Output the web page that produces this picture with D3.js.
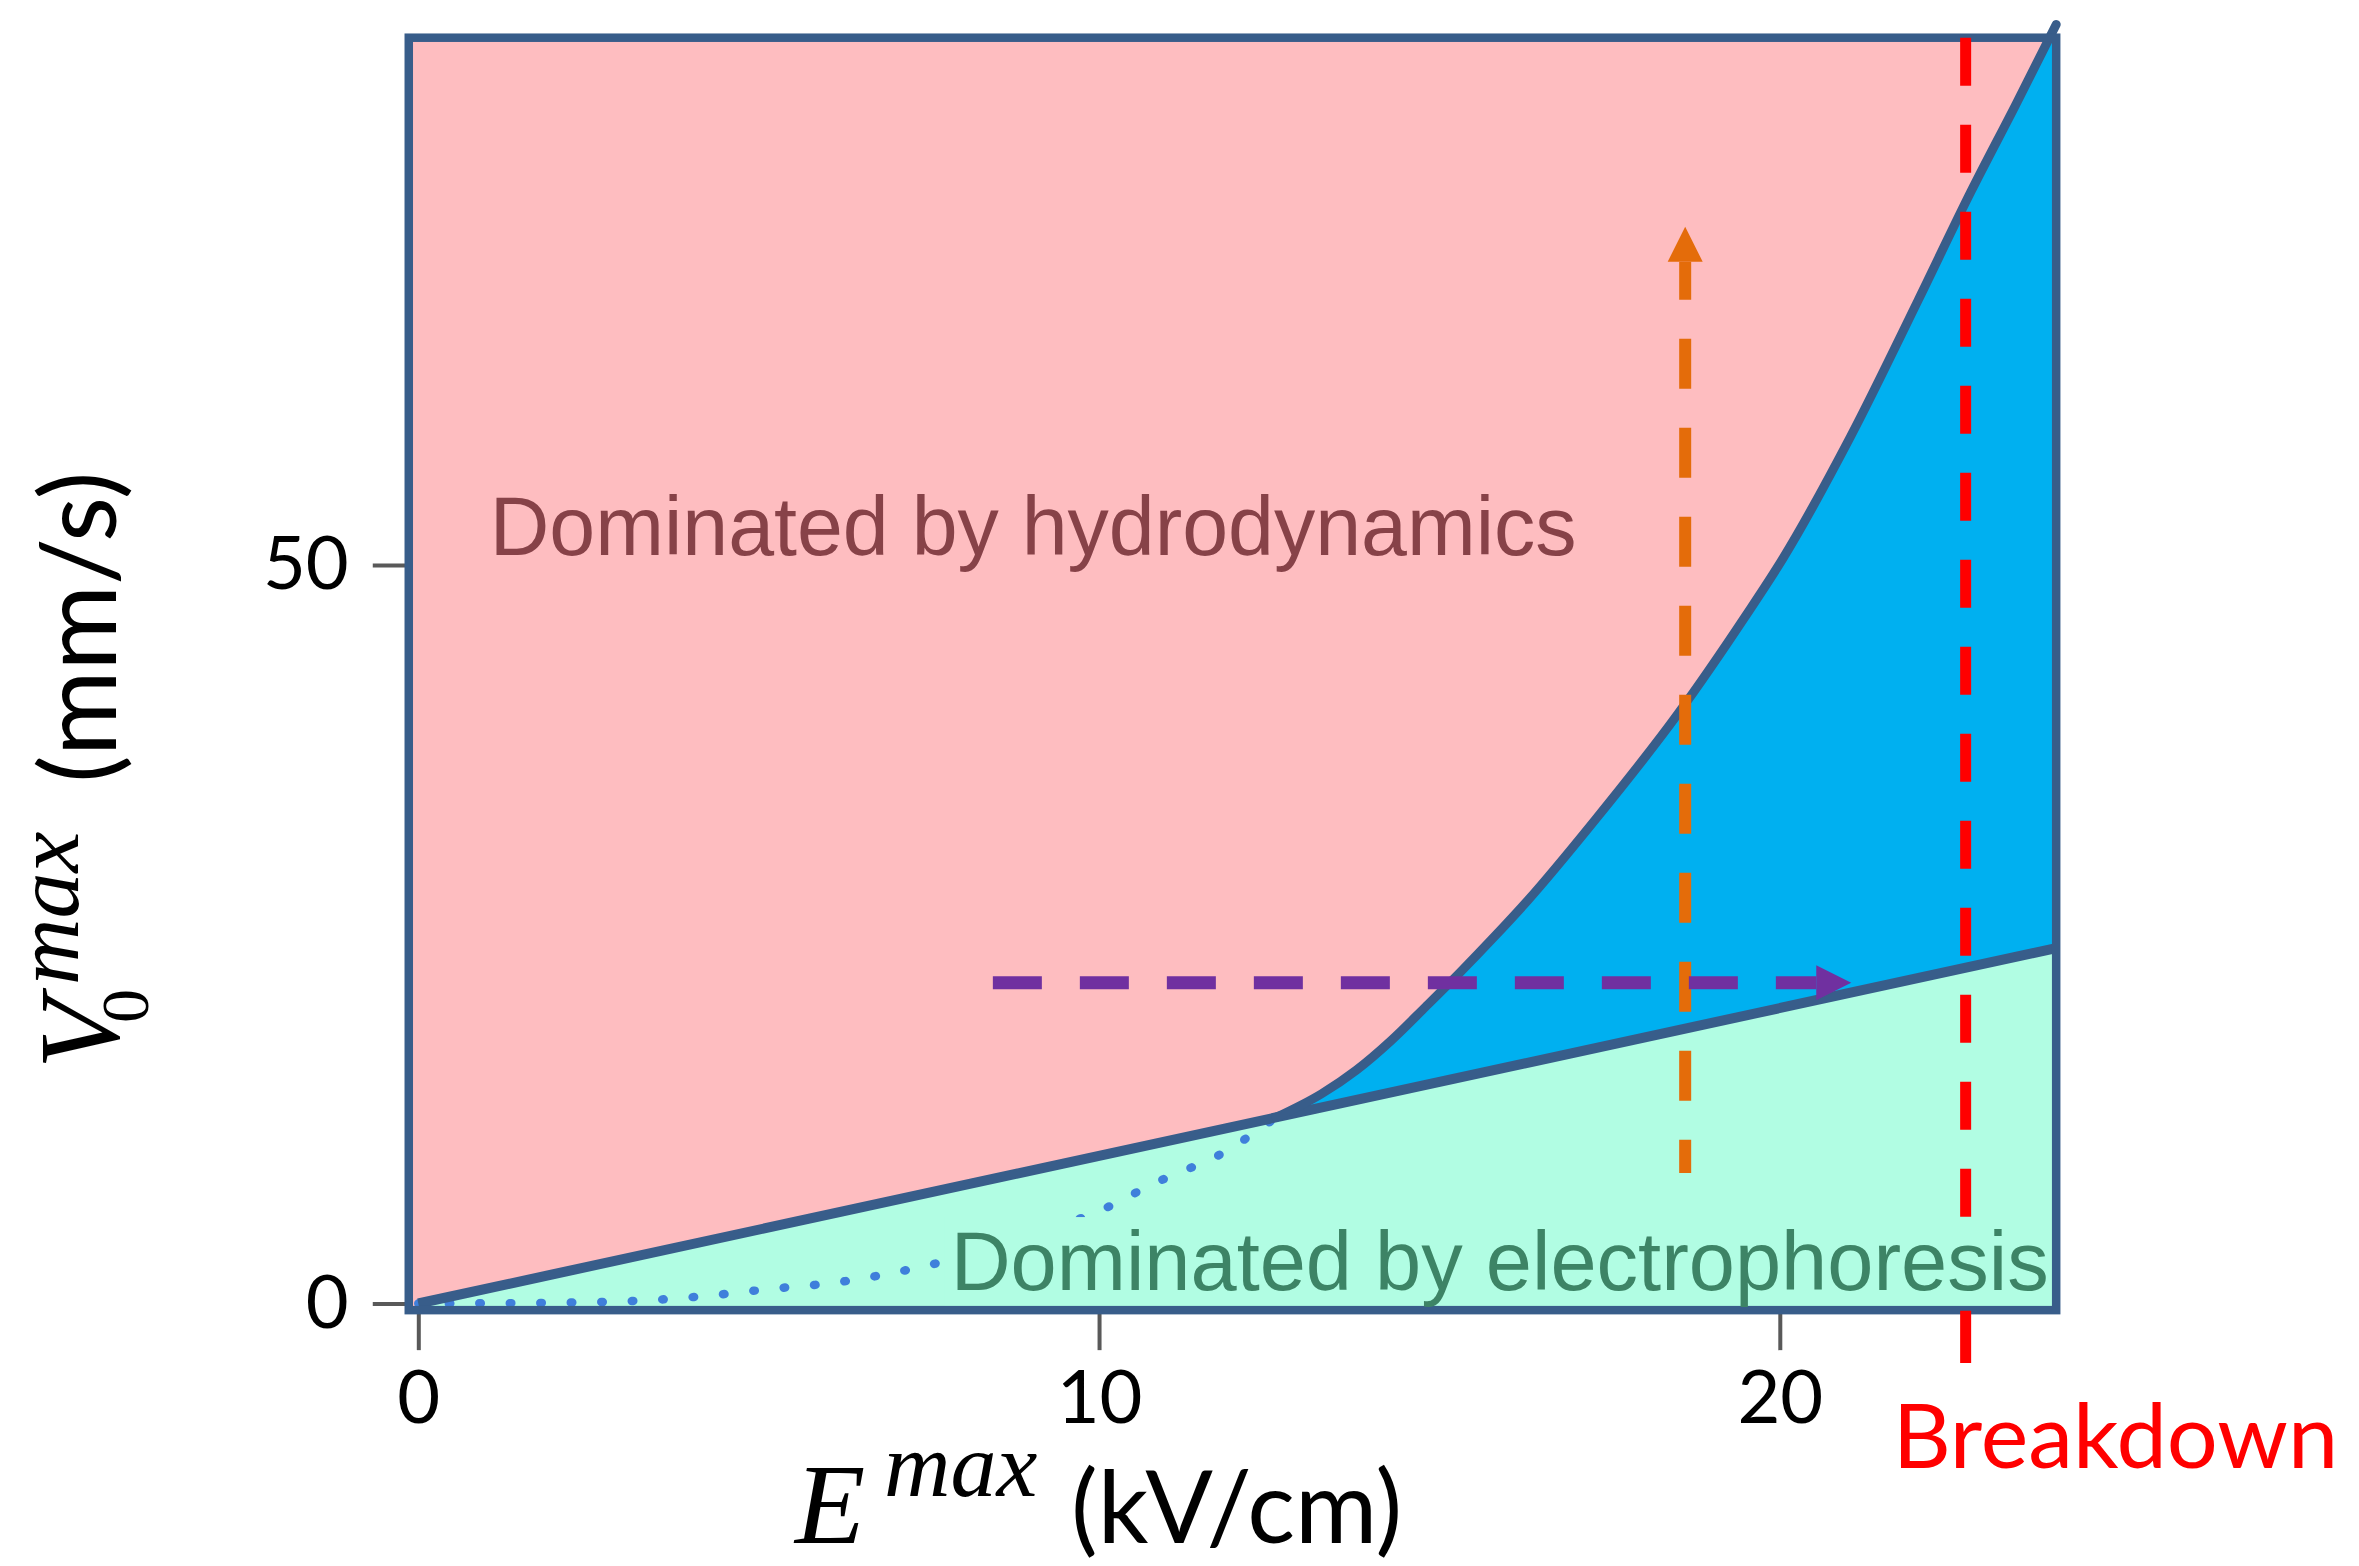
<!DOCTYPE html>
<html><head><meta charset="utf-8">
<script src="https://cdn.jsdelivr.net/npm/d3@7"></script>
<style>html,body{margin:0;padding:0;background:#fff;} svg{display:block;}</style>
</head><body>
<script>
// ---------- data ----------
const xTicks = [0, 10, 20];
const yTicks = [0, 50];
const frameE = [-0.14, 24.06];      // plot frame extent in E (kV/cm)
const frameV = [-0.45, 85.7];       // plot frame extent in V (mm/s)
const electroE = [0, 24.06];        // electrophoresis boundary (straight line)
const electroV = [0, 24.06];
const hydroE = [12.6, 13.27, 13.78, 14.29, 14.8, 15.3, 15.8, 16.3, 17.28, 18.5, 19.49, 20.04, 21.04, 22.03, 22.81, 23.47, 24.06];
const hydroV = [12.6, 14.2, 15.8, 17.8, 20.1, 22.4, 24.8, 27.3, 32.7, 39.9, 46.5, 50.4, 58.7, 67.9, 75.3, 81.2, 86.6];
const dotE = [0, 2.0, 3.3, 4.2, 5.2, 6.1, 7.0, 7.5, 8.7, 9.8, 10.3, 10.7, 11.25, 11.7, 12.2, 12.6];
const dotV = [0, 0.05, 0.2, 0.5, 1.0, 1.4, 2.1, 2.6, 4.1, 5.9, 6.9, 7.9, 9.0, 9.9, 11.3, 12.6];
const orangeE = 18.61, orangeV = [8.84, 72.9];
const purpleV = 21.72, purpleE = [8.44, 21.05];
const breakdownE = 22.73, breakdownV = [85.7, -4.03];
const hydroLabel = "Dominated by hydrodynamics", hydroLabelPos = [1.05, 50.7];
const electroLabel = "Dominated by electrophoresis", electroLabelPos = [7.82, 0.91];
const breakdownLabel = "Breakdown";

// ---------- setup ----------
const W = 2359, H = 1566;
const svg = d3.select("body").append("svg").attr("width", W).attr("height", H);
const x = d3.scaleLinear().domain([0, 20]).range([418.3, 1779.8]);
const y = d3.scaleLinear().domain([0, 50]).range([1303.5, 565]);

const C = {
  pink: "#FEBDC0", cyan: "#00B0F0", green: "#B1FDE3", frame: "#385D8A",
  dot: "#3F7FDB", orange: "#E46C0A", purple: "#7030A0", red: "#FF0000",
  hydroText: "#874248", electroText: "#3D8466"
};
const serif = "'Liberation Serif', 'DejaVu Serif', serif";
const sans = "Lato, 'Open Sans', sans-serif";

const zip = (a, b) => a.map((v, i) => [v, b[i]]);
const hydroPts = zip(hydroE, hydroV);
const electroPts = zip(electroE, electroV);
const dotPts = zip(dotE, dotV);

const xl = frameE.map(x), yl = frameV.map(y);

// pink background (whole frame)
svg.append("rect")
  .attr("x", xl[0]).attr("y", yl[1])
  .attr("width", xl[1] - xl[0]).attr("height", yl[0] - yl[1])
  .attr("fill", C.pink);

// green: below electrophoresis line
const area = d3.area().x(d => x(d[0])).y0(yl[0]).y1(d => y(d[1]));
svg.append("path").attr("d", area(electroPts)).attr("fill", C.green);

// cyan: between the two boundaries
const curveLine = d3.line().x(d => x(d[0])).y(d => y(d[1])).curve(d3.curveMonotoneX);
const straight = d3.line().x(d => x(d[0])).y(d => y(d[1]));
const last = electroPts[electroPts.length - 1];
svg.append("path")
  .attr("d", curveLine(hydroPts) + `L${x(last[0])},${y(last[1])}Z`)
  .attr("fill", C.cyan);

// dotted continuation
svg.append("path")
  .attr("d", d3.line().x(d => x(d[0])).y(d => y(d[1])).curve(d3.curveMonotoneX)(dotPts))
  .attr("fill", "none").attr("stroke", C.dot).attr("stroke-width", 8.5)
  .attr("stroke-linecap", "round").attr("stroke-dasharray", "1.5 29");

// boundary strokes
svg.append("path").attr("d", straight(electroPts))
  .attr("fill", "none").attr("stroke", C.frame).attr("stroke-width", 10);
svg.append("path").attr("d", curveLine(hydroPts))
  .attr("fill", "none").attr("stroke", C.frame).attr("stroke-width", 9).attr("stroke-linecap", "round");

// frame outline
svg.append("rect")
  .attr("x", xl[0]).attr("y", yl[1])
  .attr("width", xl[1] - xl[0]).attr("height", yl[0] - yl[1])
  .attr("fill", "none").attr("stroke", C.frame).attr("stroke-width", 8.5);

// axes
const gy = svg.append("g").attr("transform", `translate(${xl[0]},0)`)
  .call(d3.axisLeft(y).tickValues(yTicks).tickSize(36).tickPadding(24).tickFormat(d3.format("d")));
const gx = svg.append("g").attr("transform", `translate(0,${yl[0]})`)
  .call(d3.axisBottom(x).tickValues(xTicks).tickSize(40).tickPadding(20).tickFormat(d3.format("d")));
[gy, gx].forEach(g => {
  g.select(".domain").remove();
  g.selectAll(".tick line").attr("stroke", "#595959").attr("stroke-width", 4);
  g.selectAll(".tick text").attr("font-family", sans)
    .attr("font-size", 74).attr("fill", "#000");
});
gx.lower(); gy.lower();

// red breakdown dashed line
const redPattern = [];
for (let i = 0; i < 14; i++) redPattern.push(48, 39);
redPattern.push(48, 7, 60);
svg.append("line")
  .attr("x1", x(breakdownE)).attr("x2", x(breakdownE))
  .attr("y1", y(breakdownV[0])).attr("y2", y(breakdownV[1]))
  .attr("stroke", C.red).attr("stroke-width", 11)
  .attr("stroke-dasharray", redPattern.join(" "));

// arrows
const headLen = 35, headHalf = 17.5;
{
  const ax = x(orangeE), yBot = y(orangeV[0]), yTip = y(orangeV[1]);
  svg.append("line").attr("x1", ax).attr("x2", ax).attr("y1", yTip + headLen).attr("y2", yBot)
    .attr("stroke", C.orange).attr("stroke-width", 12)
    .attr("stroke-dasharray", "50 39").attr("stroke-dashoffset", 12);
  svg.append("path")
    .attr("d", `M${ax},${yTip}L${ax - headHalf},${yTip + headLen}L${ax + headHalf},${yTip + headLen}Z`)
    .attr("fill", C.orange);
}
{
  const ay = y(purpleV), xStart = x(purpleE[0]), xTip = x(purpleE[1]);
  svg.append("line").attr("x1", xStart).attr("x2", xTip - headLen).attr("y1", ay).attr("y2", ay)
    .attr("stroke", C.purple).attr("stroke-width", 13)
    .attr("stroke-dasharray", "49 38");
  svg.append("path")
    .attr("d", `M${xTip},${ay}L${xTip - headLen},${ay - headHalf}L${xTip - headLen},${ay + headHalf}Z`)
    .attr("fill", C.purple);
}

// region labels
const labelFont = "'Liberation Sans', Arial, sans-serif";
svg.append("text").attr("x", x(hydroLabelPos[0])).attr("y", y(hydroLabelPos[1]))
  .attr("font-family", labelFont).attr("font-size", 82.5).attr("fill", C.hydroText)
  .text(hydroLabel);
const eBg = svg.append("rect").attr("fill", C.green);
const eText = svg.append("text").attr("x", x(electroLabelPos[0])).attr("y", y(electroLabelPos[1]))
  .attr("font-family", labelFont).attr("font-size", 83).attr("fill", C.electroText)
  .text(electroLabel);
{
  const bb = eText.node().getBBox();
  eBg.attr("x", bb.x - 6).attr("y", bb.y + 2).attr("width", bb.width + 8)
    .attr("height", Math.min(bb.height - 2, yl[0] - 5 - (bb.y + 2)));
}

// Breakdown label
svg.append("text").attr("x", x(breakdownE) - 73).attr("y", yl[0] + 158)
  .attr("font-family", sans).attr("font-size", 90).attr("fill", C.red)
  .text(breakdownLabel);

// x axis title: E^max (kV/cm)  — one text element with tspans
{
  const t = svg.append("text").attr("x", 795).attr("y", 1543).attr("fill", "#000");
  t.append("tspan").attr("font-family", serif).attr("font-style", "italic")
    .attr("font-size", 115).text("E");
  t.append("tspan").attr("x", 884).attr("dy", -47).attr("font-family", serif).attr("font-style", "italic")
    .attr("font-size", 92).text("max");
  t.append("tspan").attr("x", 1071).attr("dy", 47).attr("font-family", sans)
    .attr("font-size", 100).text("(kV/cm)");
}
// y axis title: V_0^max (mm/s)  — one text element with tspans
{
  const t = svg.append("text").attr("transform", "translate(118,1069) rotate(-90)")
    .attr("x", 0).attr("y", 0).attr("fill", "#000");
  t.append("tspan").attr("font-family", serif).attr("font-style", "italic")
    .attr("font-size", 115).text("V");
  t.append("tspan").attr("x", 46).attr("dy", 30).attr("font-family", serif)
    .attr("font-size", 68).text("0");
  t.append("tspan").attr("x", 84).attr("dy", -70).attr("font-family", serif).attr("font-style", "italic")
    .attr("font-size", 92).text("max");
  t.append("tspan").attr("x", 286).attr("dy", 38).attr("font-family", sans)
    .attr("font-size", 104).text("(mm/s)");
}
</script>
</body></html>
